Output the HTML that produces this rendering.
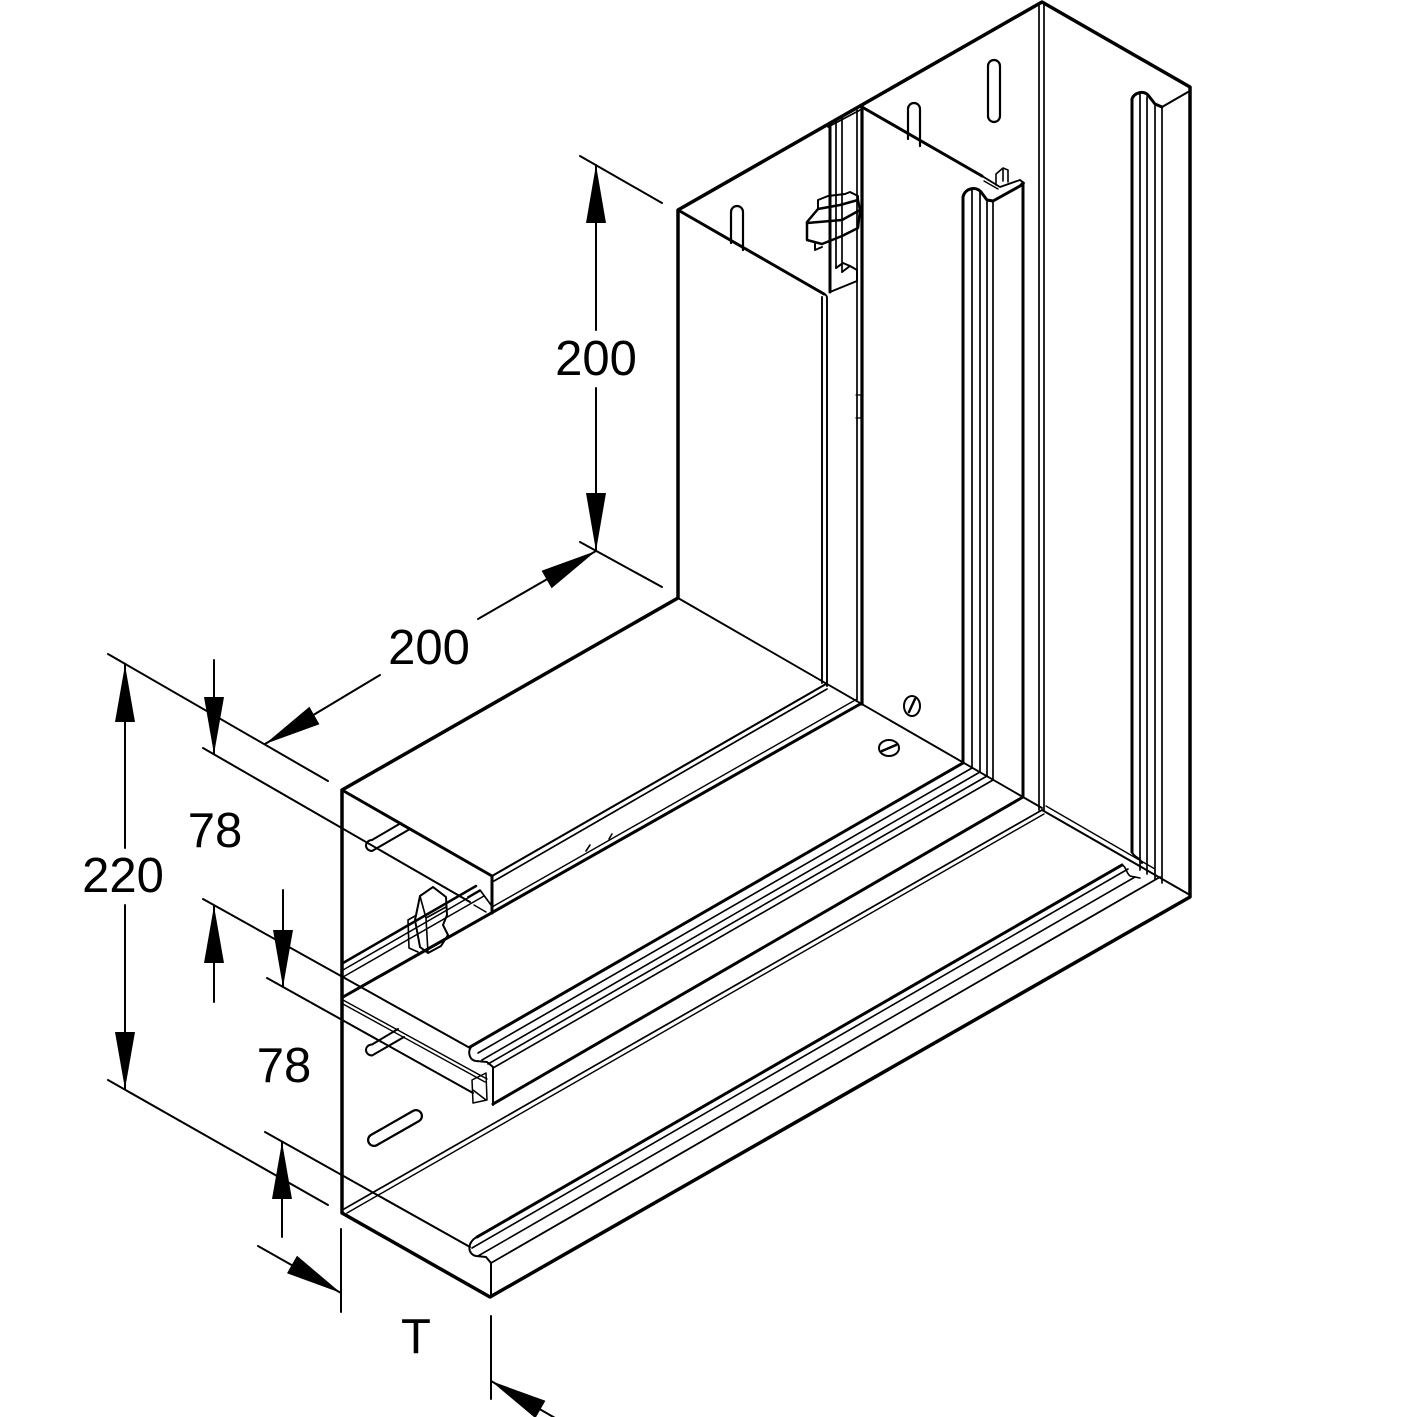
<!DOCTYPE html>
<html>
<head>
<meta charset="utf-8">
<style>
  html, body { margin:0; padding:0; background:#fff; }
  svg { display:block; }
  text { font-family: "Liberation Sans", Arial, sans-serif; font-size:49px; fill:#000; }
</style>
</head>
<body>
<svg width="1417" height="1417" viewBox="0 0 1417 1417" xmlns="http://www.w3.org/2000/svg">
<rect x="0" y="0" width="1417" height="1417" fill="#fff"/>

<g fill="none" stroke="#000" stroke-linejoin="round" stroke-linecap="round">

  <!-- ===== Vertical leg ===== -->
  <path d="M678,210 L824,294" stroke-width="3"/>
  <path d="M822,297 L822,683" stroke-width="1.9"/>
  <path d="M824,294 Q827,295 827,298 L827,686" stroke-width="1.9"/>
  <path d="M828,127 L862,109" stroke-width="1.7"/>
  <path d="M830,124 L830,292" stroke-width="3"/>
  <path d="M836,120 L836,268 M842,117 L842,272" stroke-width="1.7"/>
  <path d="M830,292 L857,281 L857,270 L850,266 L842,272 M836,268 L843,263 L850,266" stroke-width="2"/>
  <path d="M857,110 L857,700" stroke-width="1.7"/>
  <path d="M862,106 L862,704" stroke-width="3.2"/>
  <path d="M856,395 L861,395 L861,418 L856,418" stroke-width="1.3"/>

  <!-- clip (vertical leg) -->
  <path d="M807,222 L818,209 L840,205 L858,200 L860,210 L842,220 L807,223 Z" stroke-width="2.5"/>
  <path d="M807,223 L807,240 L822,244 L842,236 L858,228 L860,210" stroke-width="2.5"/>
  <path d="M818,209 L818,200 L828,196 L845,194 L850,192 L858,196 L858,200" stroke-width="2"/>
  <path d="M815,243 L815,250 L822,247" stroke-width="2"/>

  <!-- partition top edge -->
  <path d="M862,107 L982,176" stroke-width="3"/>
  <path d="M982,176 L1000,187 L1020,180 L1024,183" stroke-width="1.9"/>
  <path d="M984,181 L998,189" stroke-width="1.4"/>
  <path d="M996,185 L996,174 L1003,168 L1008,170 L1008,182 M1003,168 L1003,181" stroke-width="1.6"/>
  <!-- partition bead / lip -->
  <path d="M963,763 L963,197 C965,188 976,186 981,192 L987,200 L993,201" stroke-width="3"/>
  <path d="M972,768 L972,189 M980,772 L980,191 M987,776 L987,200 M993,780 L993,201" stroke-width="1.7"/>
  <path d="M993,201 L1020,186 L1023,183 L1023,797" stroke-width="3"/>

  <!-- base / right wall corner (double) -->
  <path d="M1039,4 L1039,810" stroke-width="1.7"/>
  <path d="M1044,4 L1044,811" stroke-width="1.7"/>

  <!-- right wall rib -->
  <path d="M1132,852 L1132,99 C1134,93 1143,90 1148,95 L1155,104 L1162,107" stroke-width="3"/>
  <path d="M1162,107 L1188,92" stroke-width="2"/>
  <path d="M1140,94 L1140,870 M1147,97 L1147,874 M1155,104 L1155,879 M1162,107 L1162,883" stroke-width="1.7"/>
  <path d="M1132,852 C1134,858 1140,857 1142,863" stroke-width="2"/>

  <!-- right bottom v-line -->
  <path d="M1042,810 L1190,895" stroke-width="2"/>
  <path d="M1046,806 L1155,869" stroke-width="1.4"/>

  <!-- slots on vertical leg base -->
  <rect x="988" y="60" width="12" height="62" rx="6" ry="6" stroke-width="2.2"/>
  <path d="M908,139 L908,109 A6,6 0 0 1 920,109 L920,146" stroke-width="2.2"/>
  <path d="M731,243 L731,212 A6,6 0 0 1 743,212 L743,250" stroke-width="2.2"/>

  <!-- long v-line through inner corner -->
  <path d="M678,598 L1042,808" stroke-width="1.9"/>

  <!-- screws -->
  <ellipse cx="912" cy="706" rx="8" ry="10" stroke-width="2"/>
  <path d="M909,712 L915,699" stroke-width="2.5"/>
  <ellipse cx="889" cy="748" rx="10" ry="8" stroke-width="2"/>
  <path d="M882,751 L896,745" stroke-width="2.5"/>

  <!-- ===== Lower leg: top wall ===== -->
  <path d="M342,790 L492,876 L492,913" stroke-width="3"/>
  <path d="M492,876 L826,684" stroke-width="2.1"/>
  <path d="M494,881 L827,689" stroke-width="1.7"/>
  <path d="M468,897 L480,890 L491,905" stroke-width="1.7"/>
  <path d="M474,905 L486,912" stroke-width="1.4"/>

  <!-- partition base line (double) -->
  <path d="M343,997 L862,703" stroke-width="3"/>
  <path d="M492,907 L857,699" stroke-width="1.4"/>
  <path d="M586,851 L590,845 M609,839 L612,834" stroke-width="1.6"/>

  <!-- rail lines in upper compartment -->
  <path d="M343,963 L476,886" stroke-width="2.5"/>
  <path d="M343,970 L480,891 M343,977 L484,896" stroke-width="1.5"/>

  <!-- clip (lower leg) -->
  <path d="M420,896 L433,887 L446,897 L447,915 L443,925 L448,935 L441,946 L428,953 L420,947 L415,920 Z" stroke-width="2"/>
  <path d="M420,896 L426,918 L428,953 M426,918 L446,907" stroke-width="1.6"/>
  <path d="M415,916 L408,920 L409,948 L418,952" stroke-width="1.6"/>

  <!-- slots lower leg -->
  <path d="M401,823 L372,840 A6,5.5 0 0 0 372,851 L410,829" stroke-width="2"/>
  <path d="M398,1029 L372,1044.5 A6,5.5 0 0 0 372,1055.5 L404,1037" stroke-width="2"/>
  <path d="M374,1140 L416,1116" stroke-width="14" stroke="#000"/>
  <path d="M374,1140 L416,1116" stroke-width="9.5" stroke="#fff"/>

  <!-- partition lip section -->
  <path d="M472,1046 C467,1051 469,1060 476,1061 L487,1062 L493,1067 L493,1105" stroke-width="2"/>
  <path d="M472,1080 L486,1073 L487,1100 L473,1103 Z M473,1090 L486,1100" stroke-width="1.5"/>
  <!-- partition horizontal lip lines -->
  <path d="M470,1047 L963,763" stroke-width="3"/>
  <path d="M478,1053 L972,768 M482,1060 L980,772 M488,1064 L987,776 M493,1068 L993,780" stroke-width="1.6"/>
  <!-- partition bottom front edge -->
  <path d="M493,1104 L1023,797" stroke-width="3"/>
  <!-- v-line double in section -->
  <path d="M343,1000 L487,1079" stroke-width="1.4"/>
  <path d="M343,1004 L485,1082" stroke-width="1.4"/>

  <!-- bottom fold (double) -->
  <path d="M344,1209 L1042,810" stroke-width="1.7"/>
  <path d="M347,1213 L1044,814" stroke-width="1.4"/>

  <!-- bottom wall curl -->
  <path d="M477,1237 C467,1242 467,1254 476,1256 L486,1257 L491,1263 L491,1297" stroke-width="2"/>
  <path d="M477,1237 L1122,865" stroke-width="3"/>
  <path d="M472,1248 L1128,869 M478,1256 L1135,877" stroke-width="1.6"/>
  <path d="M491,1263 L1160,877" stroke-width="1.8"/>
  <path d="M1122,865 C1126,866 1126,873 1130,876 L1140,878" stroke-width="1.6"/>

  <!-- ===== silhouette ===== -->
  <path d="M342,790 L678,598 L678,210 L1042,2 L1190,87 L1190,897 L490,1297 L342,1213 Z" stroke-width="3.5"/>

  <!-- ===== dimension lines ===== -->
  <g stroke-width="2">
    <path d="M580,156 L662,203"/>
    <path d="M580,542 L662,587"/>
    <path d="M596,165 L596,330 M596,388 L596,551"/>
    <path d="M596,551 L478,619 M380,675 L265,744"/>
    <path d="M108,654 L328,781"/>
    <path d="M108,1080 L328,1205"/>
    <path d="M125,665 L125,848 M125,905 L125,1089"/>
    <path d="M203,748 L470,902"/>
    <path d="M203,899 L470,1048"/>
    <path d="M267,978 L473,1093"/>
    <path d="M265,1132 L470,1247"/>
    <path d="M214,660 L214,754 M214,906 L214,1002"/>
    <path d="M283,890 L283,987 M282,1142 L282,1237"/>
    <path d="M258,1246 L341,1293"/>
    <path d="M341,1229 L341,1312"/>
    <path d="M491,1316 L491,1399"/>
    <path d="M491,1381 L562,1422"/>
  </g>
</g>

<!-- arrowheads -->
<g fill="#000" stroke="none">
  <polygon points="596,165 586,223 606,223"/>
  <polygon points="596,551 586,493 606,493"/>
  <polygon points="596,551 551.6,588.2 541.6,570.8"/>
  <polygon points="265,744 319.4,724.2 309.4,706.8"/>
  <polygon points="125,665 115,722 135,722"/>
  <polygon points="125,1089 115,1032 135,1032"/>
  <polygon points="214,754 204,697 224,697"/>
  <polygon points="214,906 204,963 224,963"/>
  <polygon points="283,987 273,930 293,930"/>
  <polygon points="282,1142 272,1199 292,1199"/>
  <polygon points="341,1293 287,1273.2 297,1255.8"/>
  <polygon points="491,1381 535.4,1418.2 545.4,1400.8"/>
</g>

<!-- labels -->
<text x="596" y="375" text-anchor="middle">200</text>
<text x="429" y="664" text-anchor="middle">200</text>
<text x="123" y="892" text-anchor="middle">220</text>
<text x="215" y="847" text-anchor="middle">78</text>
<text x="284" y="1082" text-anchor="middle">78</text>
<text x="416" y="1353" text-anchor="middle">T</text>
</svg>
</body>
</html>
